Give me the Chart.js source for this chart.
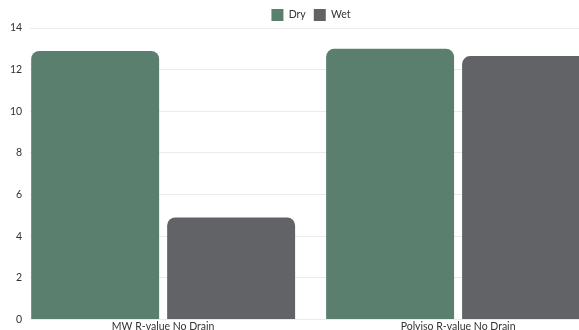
<!DOCTYPE html>
<html>
<head>
<meta charset="utf-8">
<script src="https://cdn.jsdelivr.net/npm/chart.js@4"></script>
<style>
  html, body { margin: 0; padding: 0; background: #fff; overflow: hidden; }
  #wrap { width: 579px; height: 330px; overflow: hidden; }
  #box { position: relative; width: 620px; height: 334px; }
</style>
</head>
<body>
<div id="wrap"><div id="box"><canvas id="chartRvalue"></canvas></div></div>
<script>
/* R-value bars, dry vs wet */

const categories = ["MW R-value No Drain", "Polyiso R-value No Drain"];
const dryValues = [12.9, 13.0];
const wetValues = [4.9, 12.65];
const yTicks = [0, 2, 4, 6, 8, 10, 12, 14];

function toPoints(values) {
  return values.map((v, i) => ({ x: i, y: v }));
}

const ctx = document.getElementById("chartRvalue");
new Chart(ctx, {
  type: "bar",
  data: {
    datasets: [
      {
        label: "Dry",
        data: toPoints(dryValues),
        backgroundColor: "#5b7f6e",
        borderRadius: 8,
        borderSkipped: "start",
      },
      {
        label: "Wet",
        data: toPoints(wetValues),
        backgroundColor: "#616367",
        borderRadius: 8,
        borderSkipped: "start",
      },
    ],
  },
  options: {
    responsive: true,
    maintainAspectRatio: false,
    animation: false,
    categoryPercentage: 0.922,
    barPercentage: 0.941,
    layout: { padding: { left: 2, top: 1, right: 0, bottom: 0 } },
    scales: {
      x: {
        type: "linear",
        offset: false,
        min: -0.4508,
        max: 1.549,
        grid: { display: false, offset: false, drawTicks: false },
        border: { display: false },
        afterBuildTicks: (scale) => {
          scale.ticks = categories.map((_, i) => ({ value: i }));
        },
        ticks: {
          autoSkip: false,
          maxRotation: 0,
          padding: 1,
          color: "#333",
          font: { family: "Lato", size: 10.5 },
          callback: (v) => categories[v] ?? "",
        },
      },
      y: {
        min: 0,
        max: 14,
        afterBuildTicks: (scale) => {
          scale.ticks = yTicks.map((v) => ({ value: v }));
        },
        grid: { color: "#ebebeb", drawTicks: false },
        border: { display: false },
        ticks: {
          padding: 8,
          color: "#333",
          font: { family: "Lato", size: 10.5 },
        },
      },
    },
    plugins: {
      legend: {
        position: "top",
        maxHeight: 27,
        labels: {
          boxWidth: 12,
          boxHeight: 12,
          padding: 8,
          color: "#333",
          font: { family: "Lato", size: 10.5, lineHeight: 1.1 },
        },
      },
      tooltip: { enabled: false },
    },
  },
});
</script>
</body>
</html>
